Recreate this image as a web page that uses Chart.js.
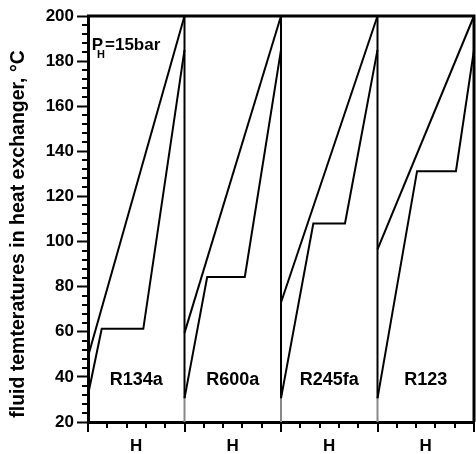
<!DOCTYPE html>
<html>
<head>
<meta charset="utf-8">
<script src="https://cdn.jsdelivr.net/npm/chart.js@4/dist/chart.umd.min.js"></script>
<style>
  html, body { margin: 0; padding: 0; background: #fff; }
  canvas { display: block; }
</style>
</head>
<body>
<canvas id="chartCanvas" width="476" height="454"></canvas>
<script>
// one panel per working fluid, x runs 0..1 inside each panel (share of heat H)
const panelNames = ['R134a', 'R600a', 'R245fa', 'R123'];
const hotOutlet = [49, 59.5, 73, 96.5];
const hotInlet = [200, 200, 200, 200];
const wfInlet = [32, 30.5, 30.5, 30.5];
const evapTemp = [61.3, 84.3, 108, 131.2];
const evapStart = [0.142, 0.235, 0.335, 0.41];
const evapEnd = [0.573, 0.625, 0.663, 0.813];
const wfOutlet = [185, 185, 185, 185];

const yTickValues = [20, 40, 60, 80, 100, 120, 140, 160, 180, 200];
const xTickLabels = ['H', 'H', 'H', 'H'];
const yTitle = 'fluid temteratures in heat exchanger, °C';

const FONT = '"Liberation Sans", Arial, sans-serif';

const line = (data, color) => ({
  data: data,
  borderColor: color,
  borderWidth: 2,
  pointRadius: 0,
  fill: false,
  tension: 0,
  clip: false,
});

const datasets = [];
panelNames.forEach((name, i) => {
  datasets.push(line([
    { x: i, y: hotOutlet[i] },
    { x: i + 1, y: hotInlet[i] },
  ], '#000'));
  datasets.push(line([
    { x: i, y: wfInlet[i] },
    { x: i + evapStart[i], y: evapTemp[i] },
    { x: i + evapEnd[i], y: evapTemp[i] },
    { x: i + 1, y: wfOutlet[i] },
  ], '#000'));
  if (i > 0) {
    datasets.push(line([{ x: i, y: 20 }, { x: i, y: wfInlet[i] }], '#888'));
    datasets.push(line([{ x: i, y: wfInlet[i] }, { x: i, y: 200 }], '#000'));
  }
});

const extras = {
  id: 'extras',
  afterDraw(chart) {
    const { ctx, chartArea: a, scales: { x, y } } = chart;
    ctx.save();
    ctx.strokeStyle = '#000';
    ctx.lineWidth = 3;
    // frame top / right
    ctx.beginPath();
    ctx.moveTo(a.left - 1, a.top);
    ctx.lineTo(a.right, a.top);
    ctx.lineTo(a.right, a.bottom);
    ctx.stroke();

    // y minor ticks
    ctx.lineWidth = 2;
    ctx.beginPath();
    for (let v = 20; v <= 200; v += 4) {
      if (v % 20 === 0) continue;
      const py = Math.round(y.getPixelForValue(v));
      ctx.moveTo(a.left - 6, py);
      ctx.lineTo(a.left, py);
    }
    ctx.stroke();

    // x ticks, long at panel borders
    ctx.beginPath();
    for (let k = 0; k <= 20; k++) {
      const px = Math.round(x.getPixelForValue(k * 0.2));
      const len = k % 5 === 0 ? 10 : 6;
      ctx.moveTo(px, a.bottom);
      ctx.lineTo(px, a.bottom + len);
    }
    ctx.stroke();

    // y title
    ctx.fillStyle = '#000';
    ctx.font = 'bold 19.5px ' + FONT;
    ctx.textAlign = 'center';
    ctx.textBaseline = 'middle';
    ctx.translate(19, 234);
    ctx.rotate(-Math.PI / 2);
    ctx.fillText(yTitle, 0, 0);
    ctx.restore();

    ctx.save();
    ctx.fillStyle = '#000';
    ctx.textBaseline = 'alphabetic';
    // fluid names
    ctx.font = 'bold 18px ' + FONT;
    ctx.textAlign = 'center';
    panelNames.forEach((name, i) => {
      ctx.fillText(name, x.getPixelForValue(i + 0.5), y.getPixelForValue(36.4));
    });
    // P_H=15bar
    ctx.textAlign = 'left';
    const px = x.getPixelForValue(0.038);
    const py = y.getPixelForValue(184.8);
    ctx.font = 'bold 17px ' + FONT;
    ctx.fillText('P', px, py);
    const pw = ctx.measureText('P').width;
    ctx.font = 'bold 11px ' + FONT;
    ctx.fillText('H', px + pw - 6, py + 8);
    ctx.font = 'bold 17px ' + FONT;
    ctx.fillText('=15bar', px + pw + 2, py);
    ctx.restore();
  },
};

const ctx = document.getElementById('chartCanvas').getContext('2d');
new Chart(ctx, {
  type: 'line',
  data: { datasets: datasets },
  plugins: [extras],
  options: {
    responsive: false,
    animation: false,
    devicePixelRatio: 1,
    layout: { padding: { top: 16, right: 2, bottom: 0, left: 0 } },
    plugins: { legend: { display: false }, tooltip: { enabled: false } },
    scales: {
      x: {
        type: 'linear',
        min: 0,
        max: 4,
        afterBuildTicks: (scale) => {
          scale.ticks = xTickLabels.map((_, i) => ({ value: i + 0.5 }));
        },
        afterFit: (scale) => { scale.height = 32; },
        ticks: {
          callback: (v, i) => xTickLabels[i],
          font: { family: FONT, size: 17, weight: 'bold' },
          color: '#000',
          padding: 14,
          maxRotation: 0,
        },
        grid: { display: false, drawTicks: false },
        border: { display: true, color: '#000', width: 3 },
      },
      y: {
        min: 20,
        max: 200,
        afterBuildTicks: (scale) => {
          scale.ticks = yTickValues.map((v) => ({ value: v }));
        },
        afterFit: (scale) => { scale.width = 88; },
        ticks: {
          font: { family: FONT, size: 17, weight: 'bold' },
          color: '#000',
          padding: 3,
        },
        grid: {
          drawOnChartArea: false,
          drawTicks: true,
          tickLength: 11,
          tickColor: '#000',
          tickWidth: 2,
        },
        border: { display: true, color: '#000', width: 3 },
      },
    },
  },
});
</script>
</body>
</html>
